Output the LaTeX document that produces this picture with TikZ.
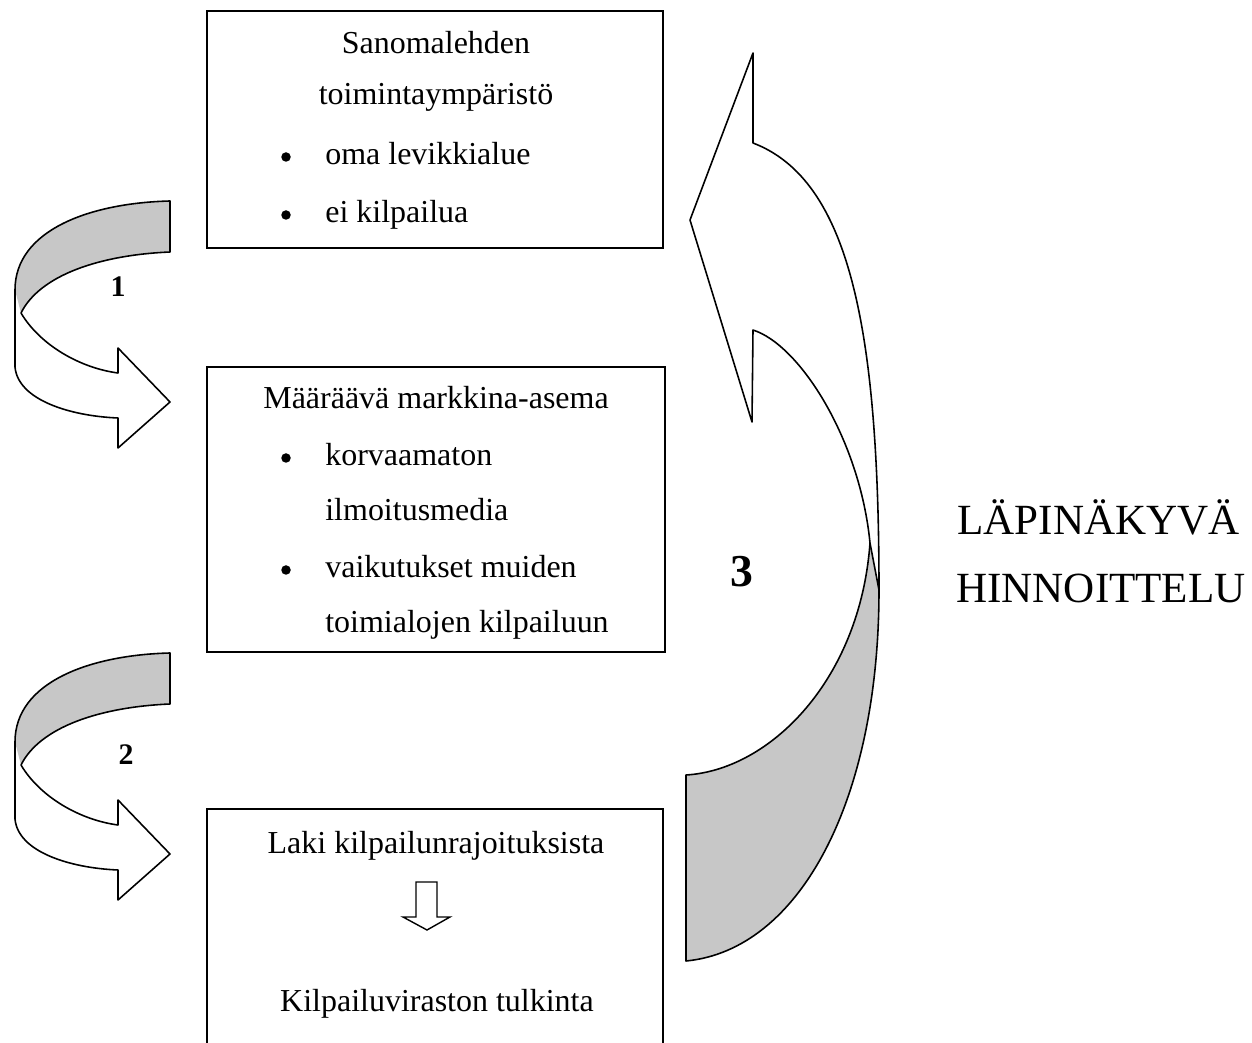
\documentclass[tikz,border=0pt]{standalone}
\usepackage{fontspec}
\setmainfont{Liberation Serif}
\usetikzlibrary{positioning}

\begin{document}
\begin{tikzpicture}[
  x=0.02cm, y=-0.02cm,
  font=\fontsize{18.2}{22}\selectfont,
  box/.style={draw, line width=0.9pt, inner sep=0pt},
  txt/.style={anchor=base, inner sep=0pt},
  item/.style={anchor=base west, inner sep=0pt},
  dot/.style={circle, fill, inner sep=0pt, minimum size=0.19cm},
  band/.style={draw, line width=0.9pt, line join=round},
  shade/.style={fill=black!22},
  num/.style={inner sep=0pt, font=\fontsize{17}{20}\selectfont\bfseries},
  title/.style={anchor=base west, inner sep=0pt, font=\fontsize{24.5}{30}\selectfont}
]
\useasboundingbox (0,0) rectangle (1252,1043);

% boxes
\node[box, minimum width=9.12cm, minimum height=4.74cm] (env) at (435,129.5) {};
\node[box, minimum width=9.16cm, minimum height=5.7cm] (pos) at (436,509.5) {};
\draw[line width=0.9pt] (207,1043) |- (663,809) -- (663,1043);

% top box
\node[txt] (envhead) at (436,54) {Sanomalehden};
\node[txt] (envhead2) at (436,105) {toimintaympäristö};
\node[dot] (envdot1) at (286,157) {};
\node[item] (envitem1) at (325,165) {oma levikkialue};
\node[dot] (envdot2) at (286,215) {};
\node[item] (envitem2) at (325,223) {ei kilpailua};

% middle box
\node[txt] (poshead) at (436,409) {Määräävä markkina-asema};
\node[dot] (posdot1) at (286,458) {};
\node[item] (positem1) at (325,466) {korvaamaton};
\node[item] (positem1b) at (325,521) {ilmoitusmedia};
\node[dot] (posdot2) at (286,570) {};
\node[item] (positem2) at (325,578) {vaikutukset muiden};
\node[item] (positem2b) at (325,633) {toimialojen kilpailuun};

% bottom box
\node[txt] (law) at (436,854) {Laki kilpailunrajoituksista};
\node[txt] (office) at (437,1011) {Kilpailuviraston tulkinta};
\draw[line width=0.8pt, line join=miter]
  (416,882) -- (437,882) -- (437,917) -- (450,917) -- (427,930) -- (403,917) -- (416,917) -- cycle;

% curved arrows 1 and 2
\foreach \dy in {0,452} {
  \begin{scope}[shift={(0,\dy)}]
    \fill[shade] (170,201) .. controls (90,203) and (15,230) .. (15,290)
      -- (21,313) .. controls (40,275) and (100,255) .. (170,252) -- cycle;
    \draw[band] (170,201) .. controls (90,203) and (15,230) .. (15,290)
      -- (15,367) .. controls (18,400) and (70,416) .. (118,418)
      -- (118,448) -- (170,402) -- (118,348) -- (118,373)
      .. controls (80,368) and (40,345) .. (21,313)
      .. controls (40,275) and (100,255) .. (170,252) -- cycle;
  \end{scope}
}
\node[num] (one) at (118,287) {1};
\node[num] (two) at (126,755) {2};

% curved arrow 3
\fill[shade] (686,775) -- (686,961) .. controls (800,950) and (879,800) .. (879,590)
  -- (870,543) .. controls (860,680) and (770,770) .. (686,775) -- cycle;
\draw[band] (686,775) -- (686,961) .. controls (800,950) and (879,800) .. (879,590)
  .. controls (879,330) and (850,180) .. (753,143)
  -- (753,53) -- (690,220) -- (752,422) -- (753,330)
  .. controls (800,345) and (860,440) .. (870,543)
  .. controls (860,680) and (770,770) .. (686,775) -- cycle;
\draw[band] (870,543) -- (879,590);
\node[inner sep=0pt, anchor=base, font=\fontsize{26}{30}\selectfont\bfseries] (three) at (742,587) {3};

% right title
\node[title] (transp) at (957,535) {LÄPINÄKYVÄ};
\node[title] (pricing) at (956,603) {HINNOITTELU};

\end{tikzpicture}
\end{document}
